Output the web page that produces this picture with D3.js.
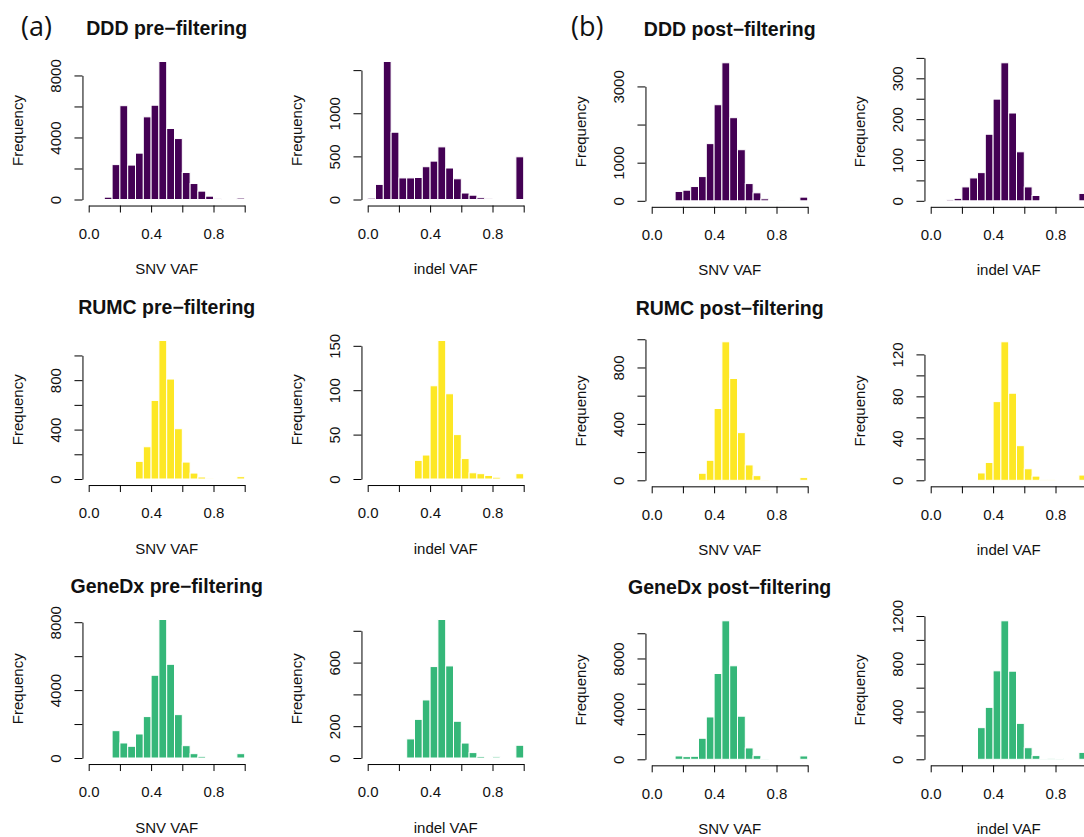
<!DOCTYPE html>
<html>
<head>
<meta charset="utf-8">
<script src="https://cdn.jsdelivr.net/npm/d3@7"></script>
<style>
  body { margin: 0; background: #fff; }
  svg { display: block; font-family: "Liberation Sans", Arial, Helvetica, sans-serif; }
</style>
</head>
<body>
<svg id="chart" width="1084" height="837"></svg>
<script>
// histogram bin edges (VAF)
var breaks = [0, 0.05, 0.1, 0.15, 0.2, 0.25, 0.3, 0.35, 0.4, 0.45, 0.5,
              0.55, 0.6, 0.65, 0.7, 0.75, 0.8, 0.85, 0.9, 0.95, 1];

var xTicks  = [0, 0.2, 0.4, 0.6, 0.8, 1];
var xLabels = ["0.0", "", "0.4", "", "0.8", ""];

var cohortColours = ["#440154", "#FDE725", "#35B779"];
var titles = ["DDD pre\u2212filtering", "DDD post\u2212filtering",
              "RUMC pre\u2212filtering", "RUMC post\u2212filtering",
              "GeneDx pre\u2212filtering", "GeneDx post\u2212filtering"];
var panelLetters = ["(a)", "(b)"];

// counts per bin
var dddPreSNV      = [0, 0, 150, 2250, 6050, 2220, 2990, 5330, 6080, 8900, 4580, 3930, 1740, 1030, 540, 215, 40, 0, 0, 90];
var dddPreIndel    = [15, 175, 1600, 780, 250, 250, 255, 380, 445, 610, 365, 240, 75, 50, 20, 8, 0, 0, 0, 495];
var dddPostSNV     = [0, 0, 0, 245, 278, 374, 635, 1500, 2520, 3620, 2180, 1340, 452, 209, 52, 10, 5, 0, 0, 96];
var dddPostIndel   = [0, 0, 3, 6, 34, 56, 69, 163, 249, 338, 215, 120, 34, 13, 1, 0, 0, 0, 0, 18];
var rumcPreSNV     = [0, 0, 0, 0, 0, 0, 143, 261, 636, 1121, 809, 407, 137, 48, 16, 3, 0, 0, 0, 19];
var rumcPreIndel   = [0, 0, 0, 0, 0, 0, 21, 27, 105, 156, 96, 50, 23, 7, 6, 4, 2, 0, 1, 6];
var rumcPostSNV    = [0, 0, 0, 0, 0, 0, 50, 142, 509, 982, 722, 338, 109, 33, 2, 0, 0, 0, 0, 19];
var rumcPostIndel  = [0, 0, 0, 0, 0, 0, 7, 17, 75, 132, 83, 33, 11, 4, 1, 1, 0, 0, 0, 5];
var genedxPreSNV   = [0, 0, 0, 1610, 885, 690, 1415, 2440, 4875, 8160, 5520, 2555, 727, 255, 98, 30, 0, 0, 0, 255];
var genedxPreIndel = [0, 0, 0, 0, 0, 120, 243, 365, 575, 871, 579, 231, 94, 34, 10, 5, 8, 5, 5, 80];
var genedxPostSNV  = [0, 0, 0, 265, 212, 238, 1670, 3360, 6810, 10990, 7420, 3420, 900, 291, 80, 0, 0, 0, 0, 265];
var genedxPostIndel= [0, 0, 0, 0, 0, 0, 265, 435, 741, 1160, 738, 301, 97, 31, 2, 5, 8, 0, 0, 58];

// y ticks and which of them carry a label
var dddPreSNVTicks   = [0, 2000, 4000, 6000, 8000],          dddPreSNVLabels   = [0, 4000, 8000];
var dddPreIndelTicks = [0, 500, 1000, 1500],                  dddPreIndelLabels = [0, 500, 1000];
var dddPostSNVTicks  = [0, 1000, 2000, 3000],                 dddPostSNVLabels  = [0, 1000, 3000];
var dddPostIndelTicks= [0, 50, 100, 150, 200, 250, 300, 350], dddPostIndelLabels= [0, 100, 200, 300];
var rumcPreSNVTicks  = [0, 200, 400, 600, 800, 1000],         rumcPreSNVLabels  = [0, 400, 800];
var rumcPreIndelTicks= [0, 50, 100, 150],                     rumcPreIndelLabels= [0, 50, 100, 150];
var rumcPostSNVTicks = [0, 200, 400, 600, 800, 1000],         rumcPostSNVLabels = [0, 400, 800];
var rumcPostIndelTicks=[0, 20, 40, 60, 80, 100, 120],         rumcPostIndelLabels=[0, 40, 80, 120];
var genedxPreSNVTicks= [0, 2000, 4000, 6000, 8000],           genedxPreSNVLabels= [0, 4000, 8000];
var genedxPreIndelTicks=[0, 200, 400, 600, 800],              genedxPreIndelLabels=[0, 200, 600];
var genedxPostSNVTicks=[0, 2000, 4000, 6000, 8000, 10000],    genedxPostSNVLabels=[0, 4000, 8000];
var genedxPostIndelTicks=[0, 200, 400, 600, 800, 1000, 1200], genedxPostIndelLabels=[0, 400, 800, 1200];

var panels = [
  {row: 0, col: 0, counts: dddPreSNV,      ticks: dddPreSNVTicks,      labels: dddPreSNVLabels,      xlab: "SNV VAF",   title: titles[0]},
  {row: 0, col: 1, counts: dddPreIndel,    ticks: dddPreIndelTicks,    labels: dddPreIndelLabels,    xlab: "indel VAF"},
  {row: 0, col: 2, counts: dddPostSNV,     ticks: dddPostSNVTicks,     labels: dddPostSNVLabels,     xlab: "SNV VAF",   title: titles[1]},
  {row: 0, col: 3, counts: dddPostIndel,   ticks: dddPostIndelTicks,   labels: dddPostIndelLabels,   xlab: "indel VAF"},
  {row: 1, col: 0, counts: rumcPreSNV,     ticks: rumcPreSNVTicks,     labels: rumcPreSNVLabels,     xlab: "SNV VAF",   title: titles[2]},
  {row: 1, col: 1, counts: rumcPreIndel,   ticks: rumcPreIndelTicks,   labels: rumcPreIndelLabels,   xlab: "indel VAF"},
  {row: 1, col: 2, counts: rumcPostSNV,    ticks: rumcPostSNVTicks,    labels: rumcPostSNVLabels,    xlab: "SNV VAF",   title: titles[3]},
  {row: 1, col: 3, counts: rumcPostIndel,  ticks: rumcPostIndelTicks,  labels: rumcPostIndelLabels,  xlab: "indel VAF"},
  {row: 2, col: 0, counts: genedxPreSNV,   ticks: genedxPreSNVTicks,   labels: genedxPreSNVLabels,   xlab: "SNV VAF",   title: titles[4]},
  {row: 2, col: 1, counts: genedxPreIndel, ticks: genedxPreIndelTicks, labels: genedxPreIndelLabels, xlab: "indel VAF"},
  {row: 2, col: 2, counts: genedxPostSNV,  ticks: genedxPostSNVTicks,  labels: genedxPostSNVLabels,  xlab: "SNV VAF",   title: titles[5]},
  {row: 2, col: 3, counts: genedxPostIndel,ticks: genedxPostIndelTicks,labels: genedxPostIndelLabels,xlab: "indel VAF"}
];

var svg = d3.select("#chart");
svg.append("rect").attr("width", 1084).attr("height", 837).attr("fill", "#fff");

var xLeft   = [88.7, 367.7, 651.7, 930.7];
var rowZero = [199.5, 479, 758];
var rowTop  = [61.5, 340.5, 619.5];
var plotW   = 156;
var fontSize = 15;

function draw_panel(p){
    var shift = p.col >= 2 ? 1.3 : 0;   // right half sits a bit lower
    var x0 = xLeft[p.col];
    var y0 = rowZero[p.row] + shift,
        yT = rowTop[p.row] + shift;

    var x = d3.scaleLinear().domain([0, 1]).range([x0, x0 + plotW]);
    var y = d3.scaleLinear().domain([0, d3.max(p.counts)]).range([y0, yT]);
    var padY = 0.04 * (y0 - yT) + 0.5,
        padX = 0.04 * plotW;

    var g = svg.append("g");

    g.selectAll("rect.bar")
      .data(p.counts)
      .join("rect")
        .attr("class", "bar")
        .attr("x", function(d, i){ return x(breaks[i]); })
        .attr("width", function(d, i){ return x(breaks[i + 1]) - x(breaks[i]); })
        .attr("y", function(d){ return y(d); })
        .attr("height", function(d){ return y(0) - y(d); })
        .attr("fill", cohortColours[p.row])
        .attr("stroke", "#fff")
        .attr("stroke-width", 1);

    // x axis
    var xg = g.append("g")
      .attr("transform", "translate(0," + (y0 + padY) + ")")
      .call(d3.axisBottom(x)
              .tickValues(xTicks)
              .tickFormat(function(d, i){ return xLabels[i]; })
              .tickSizeInner(7)
              .tickSizeOuter(0));
    xg.selectAll("text")
      .attr("y", 28).attr("dy", "0.35em")
      .attr("fill", "#111");

    // y axis runs from first to last tick only
    var last = p.ticks[p.ticks.length - 1];
    var yAx = d3.scaleLinear().domain([0, last]).range([y(0), y(last)]);
    var yg = g.append("g")
      .attr("transform", "translate(" + (x0 - padX) + ",0)")
      .call(d3.axisLeft(yAx)
              .tickValues(p.ticks)
              .tickFormat(function(d){ return p.labels.indexOf(d) >= 0 ? d : ""; })
              .tickSizeInner(8)
              .tickSizeOuter(0));
    yg.selectAll("text")
      .attr("x", 0).attr("dy", "0.35em")
      .attr("text-anchor", "middle")
      .attr("transform", "translate(-27,0) rotate(-90)")
      .attr("fill", "#111");

    [xg, yg].forEach(function(a){
        a.attr("font-family", null).attr("font-size", fontSize);
        a.selectAll("path, line").attr("stroke", "#000").attr("stroke-width", 1);
    });

    // axis titles
    g.append("text")
      .attr("x", x(0.5)).attr("y", y0 + padY + 68.5)
      .attr("text-anchor", "middle")
      .attr("font-size", fontSize)
      .attr("fill", "#111")
      .text(p.xlab);

    g.append("text")
      .attr("transform", "translate(" + (x0 - 65.7) + "," + ((y0 + yT) / 2) + ") rotate(-90)")
      .attr("text-anchor", "middle")
      .attr("font-size", fontSize)
      .attr("fill", "#111")
      .text("Frequency");

    if (p.title){
        g.append("text")
          .attr("x", x(0.5)).attr("y", yT - 26.5)
          .attr("text-anchor", "middle")
          .attr("font-size", 19.5)
          .attr("font-weight", "bold")
          .attr("fill", "#111")
          .text(p.title);
    }
}

panels.forEach(draw_panel);

// panel letters
svg.selectAll("text.letter")
  .data(panelLetters)
  .join("text")
    .attr("class", "letter")
    .attr("x", function(d, i){ return i === 0 ? 21 : 571; })
    .attr("y", 36)
    .attr("font-family", "'Open Sans', 'Noto Sans', sans-serif")
    .attr("font-size", 27)
    .attr("fill", "#111")
    .text(function(d){ return d; });
</script>
</body>
</html>
